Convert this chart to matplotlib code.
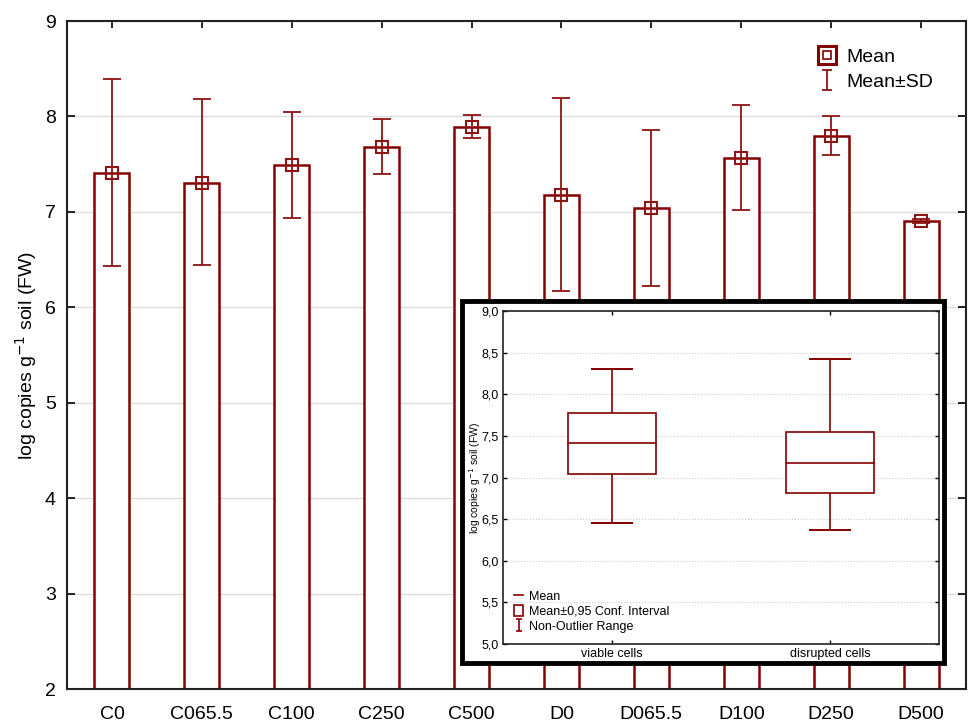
import matplotlib.pyplot as plt
from matplotlib.lines import Line2D
from matplotlib.patches import Rectangle
from matplotlib.path import Path
import numpy as np

plt.rcParams['font.family'] = ['Liberation Sans', 'DejaVu Sans']

# main chart data
groups = ['C0', 'C065.5', 'C100', 'C250', 'C500', 'D0', 'D065.5', 'D100', 'D250', 'D500']
means = [7.41, 7.30, 7.49, 7.68, 7.89, 7.18, 7.04, 7.56, 7.79, 6.90]
sd_low = [6.43, 6.44, 6.94, 7.40, 7.77, 6.17, 6.22, 7.02, 7.60, 6.88]
sd_high = [8.39, 8.18, 8.05, 7.97, 8.02, 8.19, 7.86, 8.12, 8.00, 6.92]

# inset box plot data
box_cats = ['viable cells', 'disrupted cells']
box_mean = [7.41, 7.18]
ci_low = [7.04, 6.81]
ci_high = [7.78, 7.55]
range_low = [6.45, 6.37]
range_high = [8.30, 8.42]

BAR_C = '#850000'
ERR_C = '#8f1414'

# "I" shaped marker for error bar legend entries
I_MARK = Path([(-0.5, -1), (0.5, -1), (0, -1), (0, 1), (-0.5, 1), (0.5, 1)],
              [Path.MOVETO, Path.LINETO, Path.MOVETO, Path.LINETO, Path.MOVETO, Path.LINETO])

W, H = 969, 722
fig = plt.figure(figsize=(W / 100, H / 100), dpi=100)


def fx(px):
    return px / W


def fy(py):
    return 1 - py / H


ax = fig.add_axes([fx(67), fy(689), fx(966) - fx(67), fy(21) - fy(689)])
x = np.arange(len(groups))
base = 2
ax.bar(x, np.array(means) - base, bottom=base, width=0.39,
       facecolor='white', edgecolor=BAR_C, linewidth=1.8, zorder=2)
yerr = [np.array(means) - np.array(sd_low), np.array(sd_high) - np.array(means)]
ax.errorbar(x, means, yerr=yerr, fmt='none', ecolor=ERR_C,
            elinewidth=1.3, capsize=6.5, capthick=1.3, zorder=3)
ax.plot(x, means, ls='none', marker='s', markersize=8.5, markerfacecolor='none',
        markeredgecolor=ERR_C, markeredgewidth=1.5, zorder=4)

ax.set_xlim(-0.5, len(groups) - 0.5)
ax.set_ylim(2, 9)
ax.set_xticks(x)
ax.set_xticklabels(groups, fontsize=14)
ax.set_yticks(range(2, 10))
ax.tick_params(axis='y', labelsize=14, direction='in', length=6, width=1.2,
               right=True, pad=8)
ax.tick_params(axis='x', direction='in', length=5, width=1.2, top=True, pad=12)
ax.yaxis.grid(True, color='#dcdcdc', linewidth=1)
ax.set_axisbelow(True)
for s in ax.spines.values():
    s.set_linewidth(1.5)
    s.set_color('#222222')
ax.set_ylabel('log copies g$^{-1}$ soil (FW)', fontsize=14, labelpad=4)

mean_h = (Line2D([], [], ls='none', marker='s', markersize=13, markerfacecolor='white',
                 markeredgecolor=BAR_C, markeredgewidth=2.2),
          Line2D([], [], ls='none', marker='s', markersize=6, markerfacecolor='none',
                 markeredgecolor=BAR_C, markeredgewidth=1.2))
sd_h = Line2D([], [], ls='none', marker=I_MARK, markersize=14, markerfacecolor='none',
              markeredgecolor=ERR_C, markeredgewidth=1.3)
ax.legend([mean_h, sd_h], ['Mean', 'Mean±SD'], loc='upper left',
          bbox_to_anchor=(0.815, 0.985), frameon=False, fontsize=14,
          handlelength=1.0, handletextpad=0.5, labelspacing=0.35)

# inset frame
frame = Rectangle((fx(462), fy(663)), fx(944) - fx(462), fy(301) - fy(663),
                  transform=fig.transFigure, facecolor='white', edgecolor='black',
                  linewidth=3.5, zorder=10)
fig.patches.append(frame)

ins = fig.add_axes([fx(503), fy(644), fx(939) - fx(503), fy(311) - fy(644)])
ins.set_zorder(11)
bx = np.arange(len(box_cats))
ierr = [np.array(box_mean) - np.array(range_low), np.array(range_high) - np.array(box_mean)]
ins.errorbar(bx, box_mean, yerr=ierr, fmt='none', ecolor=BAR_C,
             elinewidth=1.2, capsize=15, capthick=1.4, zorder=2)
for i in range(len(box_cats)):
    ins.add_patch(Rectangle((bx[i] - 0.2, ci_low[i]), 0.4, ci_high[i] - ci_low[i],
                            facecolor='white', edgecolor=BAR_C, linewidth=1.2, zorder=3))
    ins.plot([bx[i] - 0.2, bx[i] + 0.2], [box_mean[i]] * 2, color=BAR_C, lw=1.2, zorder=4)

ins.set_xlim(-0.5, 1.5)
ins.set_ylim(5, 9)
ins.set_xticks(bx)
ins.set_xticklabels(box_cats, fontsize=9)
yt = np.arange(5, 9.01, 0.5)
ins.set_yticks(yt)
ins.set_yticklabels([f'{v:.1f}'.replace('.', ',') for v in yt], fontsize=9)
ins.tick_params(direction='in', length=3, width=1, top=True, right=True, pad=3)
ins.yaxis.grid(True, color='#cccccc', linestyle=':', linewidth=0.8)
ins.set_axisbelow(True)
for s in ins.spines.values():
    s.set_linewidth(1.2)
    s.set_color('#222222')
ins.set_ylabel('log copies g$^{-1}$ soil (FW)', fontsize=7.5)
ins.yaxis.set_label_coords(-0.047, 0.5)

leg_h = [Line2D([], [], color=BAR_C, lw=1.2),
         Rectangle((0, 0), 1, 1, facecolor='white', edgecolor=BAR_C, linewidth=1.2),
         Line2D([], [], ls='none', marker=I_MARK, markersize=8, markerfacecolor='none',
                markeredgecolor=BAR_C, markeredgewidth=1.2)]
ins.legend(leg_h, ['Mean', 'Mean±0,95 Conf. Interval', 'Non-Outlier Range'],
           loc='lower left', bbox_to_anchor=(0.0, 0.0), frameon=False, fontsize=9,
           handlelength=0.7, handleheight=1.0, handletextpad=0.5, labelspacing=0.15,
           borderaxespad=0.5)

fig.savefig('out.png', dpi=100)
